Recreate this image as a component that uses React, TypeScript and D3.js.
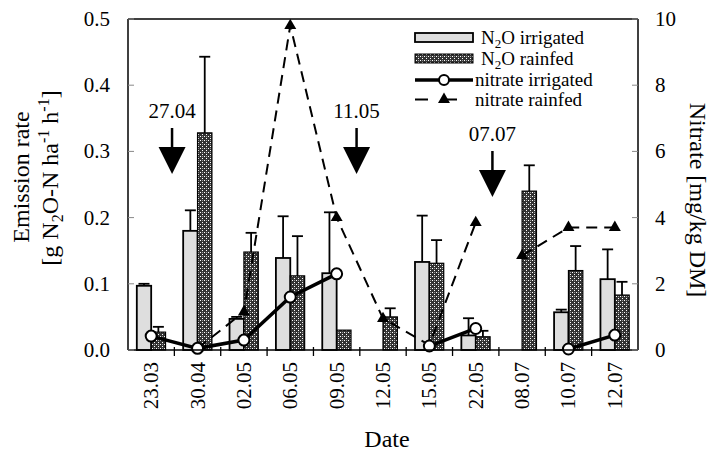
import React from "react";
import * as d3 from "d3";

const categories = ["23.03", "30.04", "02.05", "06.05", "09.05", "12.05", "15.05", "22.05", "08.07", "10.07", "12.07"];
const n2oIrrigated = [0.097, 0.18, 0.047, 0.139, 0.116, 0, 0.133, 0.022, 0, 0.057, 0.107];
const n2oIrrigatedErr = [0.003, 0.031, 0.003, 0.063, 0.092, 0, 0.07, 0.026, 0, 0.004, 0.045];
const n2oRainfed = [0.027, 0.328, 0.148, 0.112, 0.03, 0.05, 0.131, 0.02, 0.24, 0.12, 0.083];
const n2oRainfedErr = [0.008, 0.115, 0.029, 0.06, 0, 0.013, 0.035, 0.009, 0.039, 0.037, 0.02];
const nitrateIrrigated: (number | null)[] = [0.42, 0.05, 0.3, 1.6, 2.3, null, 0.12, 0.65, null, 0.03, 0.45];
const nitrateRainfed: (number | null)[] = [null, 0.05, 1.15, 9.8, 4.0, 0.95, 0.15, 3.85, 2.85, 3.7, 3.7];
const nitrateRainfedBreakAfter = ["22.05"];
const leftTicks = [0, 0.1, 0.2, 0.3, 0.4, 0.5];
const rightTicks = [0, 2, 4, 6, 8, 10];
const arrowLabels = ["27.04", "11.05", "07.07"];
const arrowPos = [0.95, 4.93, 7.86];

const FONT = "'Liberation Serif', 'Times New Roman', Times, serif";
const T = { style: { fontFamily: FONT } };

export default function App() {
  const X0 = 128, X1 = 638, YT = 19, YB = 350;
  const x = d3.scaleBand<string>().domain(categories).range([X0, X1]).padding(0);
  const xc = d3.scaleLinear().domain([0, categories.length]).range([X0, X1]);
  const yL = d3.scaleLinear().domain([0, 0.5]).range([YB, YT]);
  const yR = d3.scaleLinear().domain([0, 10]).range([YB, YT]);
  const bw = x.bandwidth() * 0.31;
  const cx = (c: string) => (x(c) as number) + x.bandwidth() / 2;

  const lineGen = d3
    .line<[number, number | null]>()
    .defined((d) => d[1] !== null)
    .x((d) => d[0])
    .y((d) => yR(d[1] as number));

  const irrPts: [number, number | null][] = categories.map((c, i) => [cx(c), nitrateIrrigated[i]]);
  const rainSegs: [number, number | null][][] = [[]];
  categories.forEach((c, i) => {
    rainSegs[rainSegs.length - 1].push([cx(c), nitrateRainfed[i]]);
    if (nitrateRainfedBreakAfter.includes(c)) rainSegs.push([]);
  });
  const tri = d3.symbol().type(d3.symbolTriangle).size(62)();

  const capW = 11;
  const errBar = (xm: number, v: number, e: number, key: string) =>
    e > 0 ? (
      <g key={key} stroke="#000" strokeWidth={1.8}>
        <line x1={xm} x2={xm} y1={yL(v)} y2={yL(v + e)} />
        <line x1={xm - capW / 2} x2={xm + capW / 2} y1={yL(v + e)} y2={yL(v + e)} />
      </g>
    ) : null;

  const legendRows = [37.5, 58.5, 80, 99.5];
  const lgX0 = 415, lgX1 = 473;

  return (
    <div style={{ position: "absolute", left: 0, top: 0, fontFamily: FONT }}>
      <svg width={710} height={452} style={{ display: "block", fontFamily: FONT }}>
        <defs>
          <pattern id="dots" width={4} height={4} patternUnits="userSpaceOnUse">
            <rect width={4} height={4} fill="#333" />
            <rect x={0} y={0} width={1} height={1} fill="#fff" />
            <rect x={2} y={2} width={1} height={1} fill="#fff" />
            <rect x={2} y={0} width={1} height={1} fill="#999" />
          </pattern>
        </defs>
        <rect width={710} height={452} fill="#fff" />

        {categories.map((c, i) => (
          <g key={"b" + c}>
            {n2oIrrigated[i] > 0 && (
              <rect
                x={cx(c) - bw}
                y={yL(n2oIrrigated[i])}
                width={bw}
                height={YB - yL(n2oIrrigated[i])}
                fill="#dedede"
                stroke="#000"
                strokeWidth={1.8}
              />
            )}
            {n2oRainfed[i] > 0 && (
              <rect
                x={cx(c)}
                y={yL(n2oRainfed[i])}
                width={bw}
                height={YB - yL(n2oRainfed[i])}
                fill="url(#dots)"
                stroke="#000"
                strokeWidth={1.2}
              />
            )}
            {n2oIrrigated[i] > 0 && errBar(cx(c) - bw / 2, n2oIrrigated[i], n2oIrrigatedErr[i], "ei" + c)}
            {n2oRainfed[i] > 0 && errBar(cx(c) + bw / 2, n2oRainfed[i], n2oRainfedErr[i], "er" + c)}
          </g>
        ))}

        {rainSegs.map((s, k) => (
          <path key={"rs" + k} d={lineGen(s) || ""} fill="none" stroke="#000" strokeWidth={2} strokeDasharray="11,7" />
        ))}
        {categories.map((c, i) =>
          nitrateRainfed[i] !== null ? (
            <path key={"t" + c} d={tri || ""} transform={`translate(${cx(c)},${yR(nitrateRainfed[i] as number)})`} fill="#000" />
          ) : null
        )}

        <path d={lineGen(irrPts) || ""} fill="none" stroke="#000" strokeWidth={3.5} />
        {categories.map((c, i) =>
          nitrateIrrigated[i] !== null ? (
            <circle key={"c" + c} cx={cx(c)} cy={yR(nitrateIrrigated[i] as number)} r={5.5} fill="#fff" stroke="#000" strokeWidth={2} />
          ) : null
        )}

        <line x1={X0} x2={X1} y1={YT} y2={YT} stroke="#000" strokeWidth={1.5} />
        <line x1={X0} x2={X0} y1={YT} y2={YB} stroke="#000" strokeWidth={1.5} />
        <line x1={X1} x2={X1} y1={YT} y2={YB} stroke="#000" strokeWidth={1.5} />
        <line x1={X0} x2={X1} y1={YB} y2={YB} stroke="#000" strokeWidth={1.5} />

        {leftTicks.map((t) => (
          <g key={"lt" + t}>
            <line x1={X0} x2={X0 + 6} y1={yL(t)} y2={yL(t)} stroke="#888" strokeWidth={1} />
            <text {...T} x={110} y={yL(t) + 7} textAnchor="end" fontSize={21}>
              {t.toFixed(1)}
            </text>
          </g>
        ))}
        {rightTicks.map((t) => (
          <g key={"rt" + t}>
            <line x1={X1 - 6} x2={X1} y1={yR(t)} y2={yR(t)} stroke="#888" strokeWidth={1} />
            <text {...T} x={655} y={yR(t) + 7} textAnchor="start" fontSize={21}>
              {String(t)}
            </text>
          </g>
        ))}
        {categories.slice(1).map((c) => (
          <line key={"bt" + c} x1={x(c) as number} x2={x(c) as number} y1={YB - 3} y2={YB + 6} stroke="#000" strokeWidth={1.3} />
        ))}
        {categories.map((c) => (
          <text {...T} key={"xl" + c} transform={`translate(${cx(c) + 7},362) rotate(-90)`} textAnchor="end" fontSize={21}>
            {c}
          </text>
        ))}

        <text {...T} x={387} y={447} textAnchor="middle" fontSize={24}>
          Date
        </text>
        <text {...T} transform="translate(29,177) rotate(-90)" textAnchor="middle" fontSize={24}>
          Emission rate
        </text>
        <text {...T} transform="translate(58,178) rotate(-90)" textAnchor="middle" fontSize={24}>
          [g N
          <tspan fontSize={16} dy={5}>2</tspan>
          <tspan dy={-5}>O-N ha</tspan>
          <tspan fontSize={16} dy={-9}>-1</tspan>
          <tspan dy={9}> h</tspan>
          <tspan fontSize={16} dy={-9}>-1</tspan>
          <tspan dy={9}>]</tspan>
        </text>
        <text {...T} transform="translate(690,200) rotate(90)" textAnchor="middle" fontSize={24}>
          Nitrate<tspan dx={6}>[mg/kg DM]</tspan>
        </text>

        {arrowLabels.map((l, i) => {
          const ax = xc(arrowPos[i]);
          const top = i === 2 ? 141 : 118;
          return (
            <g key={"a" + l}>
              <text {...T} x={ax} y={top} textAnchor="middle" fontSize={21}>
                {l}
              </text>
              <line x1={ax} x2={ax} y1={top + 10} y2={top + 32} stroke="#000" strokeWidth={2.5} />
              <path d={`M${ax - 13.5},${top + 29}L${ax + 13.5},${top + 29}L${ax},${top + 56}Z`} fill="#000" />
            </g>
          );
        })}

        <rect x={lgX0} y={legendRows[0] - 4.5} width={lgX1 - lgX0} height={9} fill="#dedede" stroke="#000" strokeWidth={1.8} />
        <rect x={lgX0} y={legendRows[1] - 4.5} width={lgX1 - lgX0} height={9} fill="url(#dots)" stroke="#000" strokeWidth={1} />
        <line x1={lgX0} x2={lgX1} y1={legendRows[2]} y2={legendRows[2]} stroke="#000" strokeWidth={3.5} />
        <circle cx={(lgX0 + lgX1) / 2} cy={legendRows[2]} r={5} fill="#fff" stroke="#000" strokeWidth={2} />
        <line x1={lgX0} x2={lgX1} y1={legendRows[3]} y2={legendRows[3]} stroke="#000" strokeWidth={2} strokeDasharray="13,16" />
        <path d={tri || ""} transform={`translate(${(lgX0 + lgX1) / 2},${legendRows[3]})`} fill="#000" />
        <text {...T} x={481} y={legendRows[0] + 6} fontSize={19}>
          N<tspan fontSize={13} dy={4}>2</tspan>
          <tspan dy={-4}>O irrigated</tspan>
        </text>
        <text {...T} x={481} y={legendRows[1] + 6} fontSize={19}>
          N<tspan fontSize={13} dy={4}>2</tspan>
          <tspan dy={-4}>O rainfed</tspan>
        </text>
        <text {...T} x={475} y={legendRows[2] + 6} fontSize={19}>
          nitrate irrigated
        </text>
        <text {...T} x={475} y={legendRows[3] + 6} fontSize={19}>
          nitrate rainfed
        </text>
      </svg>
    </div>
  );
}
